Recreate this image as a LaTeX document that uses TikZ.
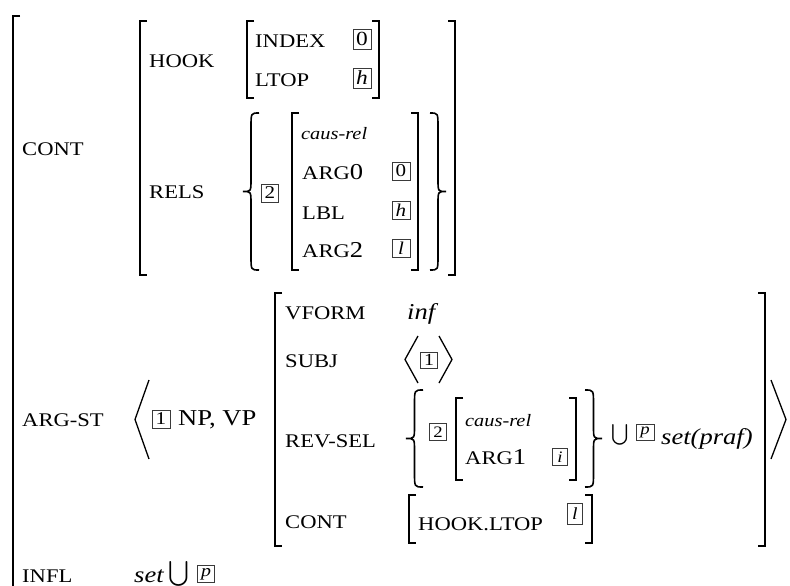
\documentclass[tikz,border=0pt]{standalone}
\usepackage{exscale}
\usepackage{fontspec}
\setmainfont{Liberation Serif}[FakeStretch=1.17]
\usepackage{tikz}
\usetikzlibrary{positioning}
\definecolor{ink}{HTML}{000000}
\definecolor{tagline}{HTML}{3A3A3A}
\newcommand{\featsize}{\fontsize{19.3}{22}\selectfont}
\newcommand{\valsize}{\fontsize{22.7}{26}\selectfont}
\tikzset{
  feat/.style={anchor=base west, inner sep=0pt, font=\featsize},
  val/.style={anchor=base west, inner sep=0pt, font=\valsize},
  relname/.style={anchor=base west, inner sep=0pt, font=\fontsize{17.4}{20}\selectfont\itshape},
  tagbox/.style={draw=tagline, line width=0.6pt, inner sep=0pt},
  brk/.style={draw=ink, line width=1.4pt},
  brc/.style={draw=ink, line width=1.3pt},
}

\begin{document}
\begin{tikzpicture}[x=1pt,y=-1pt]
  \useasboundingbox (0,0) rectangle (790,586);
  % feature names
  \node[feat] (cont) at (22,155) {CONT};
  \node[feat] (argst) at (22,426) {ARG-ST};
  \node[feat] (infl) at (22,582) {INFL};
  \node[feat] (hook) at (149,67) {HOOK};
  \node[feat] (rels) at (149,198) {RELS};
  \node[feat] (index) at (255,48) {INDEX};
  \node[feat] (ltop) at (255,86) {LTOP};
  \node[relname] (relA) at (301,139) {caus-rel};
  \node[feat] (arg0) at (302,179) {ARG{\valsize 0}};
  \node[feat] (lbl) at (302,219) {LBL};
  \node[feat] (arg2) at (302,257) {ARG{\valsize 2}};
  \node[val] (npvp) at (178,425) {NP, VP};
  \node[feat] (vform) at (285,319) {VFORM};
  \node[feat] (subj) at (285,367) {SUBJ};
  \node[feat] (revsel) at (285,447) {REV-SEL};
  \node[feat] (vpcont) at (285,528) {CONT};
  \node[val,font=\valsize\itshape] (inf) at (407,319) {inf};
  \node[relname] (relB) at (465,426) {caus-rel};
  \node[feat] (arg1) at (465,464) {ARG{\valsize 1}};
  \node[feat] (hookltop) at (418,530) {HOOK.LTOP};
  \node[val,font=\valsize\itshape] (setpraf) at (661,444) {set(praf)};
  \node[val,font=\valsize\itshape] (set) at (134,582) {set};
  \node[inner sep=0pt,font=\fontsize{21}{21}\selectfont] (cupA) at (620,435) {$\bigcup$};
  \node[inner sep=0pt,font=\fontsize{25}{25}\selectfont] (cupB) at (179,574) {$\bigcup$};
  % tags
  \foreach \nm/\x/\y/\w/\h/\s/\t in {tidx/362/39/18/20/20/0, tltop/362/78/18/20/20/{\textit{h}},
      trel/270/193/17/18/18/2, targ/401/171/18/18/18/0, tlbl/401/210/18/18/18/{\textit{h}},
      targb/401/248/18/18/18/{\textit{l}}, targst/161/419/18/18/18/1, tsubj/429/360/17/16/17/1,
      trev/438/432/17/17/16/2, ti/560/457/15/17/16/{\textit{i}}, tup/645/432/18/16/16/{\textit{p}},
      thl/575/514/15/21/17/{\textit{l}}, tinfl/206/574/17/17/17/{\textit{p}}}{
    \node[tagbox,minimum width=\w pt,minimum height=\h pt,font=\fontsize{\s}{\s}\selectfont] (\nm) at (\x,\y) {\t};
  }
  % brackets
  \foreach \x/\t/\b in {13/16/590, 140/21/275, 247/21/98, 292/113/270, 275/293/546, 456/398/480, 409/495/543}{
    \draw[brk] (\x+7,\t) -- (\x,\t) -- (\x,\b) -- (\x+7,\b);
  }
  \foreach \x/\t/\b in {455/21/275, 379/21/98, 418/113/270, 765/293/546, 576/398/480, 592/495/543}{
    \draw[brk] (\x-7,\t) -- (\x,\t) -- (\x,\b) -- (\x-7,\b);
  }
  % braces
  \foreach \a/\m/\e/\t/\c/\b in {243/251/259/113/191.5/270, 446/438/430/113/191.5/270,
      406/414.5/423/390/438.5/487, 602/593.5/585/390/438.5/487}{
    \draw[brc,line width=1.6pt] (\e,\t) .. controls (\m,\t) .. (\m,\t+14) -- (\m,\c-12)
      .. controls (\m,\c) .. (\a,\c) .. controls (\m,\c) .. (\m,\c+12)
      -- (\m,\b-14) .. controls (\m,\b) .. (\e,\b);
  }
  % angle brackets
  \draw[brc] (149,380) -- (135,419.5) -- (149,459);
  \draw[brc] (771,380) -- (786,419.5) -- (771,459);
  \draw[brc] (418,336) -- (405,359.5) -- (418,383);
  \draw[brc] (439,336) -- (452,359.5) -- (439,383);
\end{tikzpicture}
\end{document}
